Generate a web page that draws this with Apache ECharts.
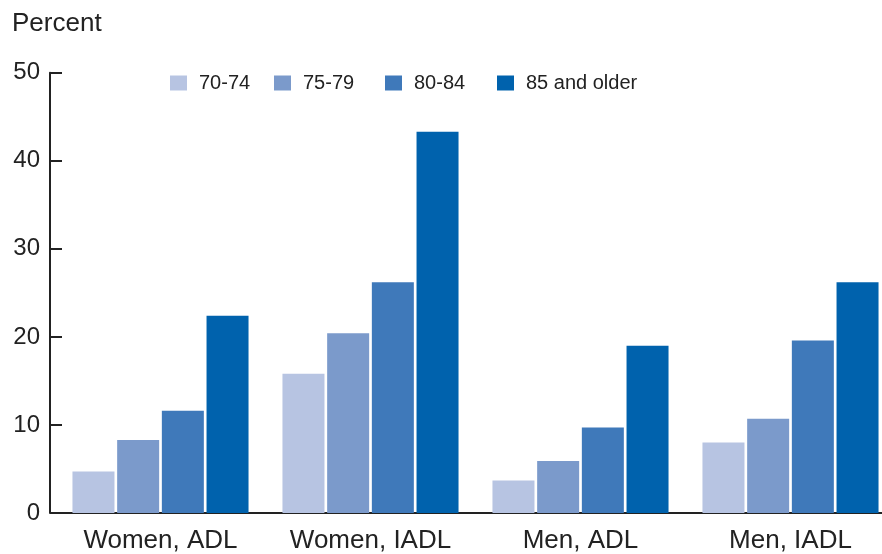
<!DOCTYPE html>
<html>
<head>
<meta charset="utf-8">
<script src="https://cdn.jsdelivr.net/npm/echarts@6/dist/echarts.min.js"></script>
<style>
html,body{margin:0;padding:0;background:#fff;}
#chart{width:882px;height:554px;}
</style>
</head>
<body>
<div id="chart"></div>
<script>
const categories = ['Women, ADL', 'Women, IADL', 'Men, ADL', 'Men, IADL'];
const seriesNames = ['70-74', '75-79', '80-84', '85 and older'];
const age70_74 = [4.7, 15.8, 3.7, 8.0];
const age75_79 = [8.3, 20.4, 5.9, 10.7];
const age80_84 = [11.6, 26.2, 9.7, 19.6];
const age85plus = [22.4, 43.3, 19.0, 26.2];
const yTicks = [0, 10, 20, 30, 40, 50];
const colors = ['#b7c4e2', '#7b9acb', '#3f79ba', '#0062ad'];
const legendLeft = [170, 274, 385, 497];

const allData = [age70_74, age75_79, age80_84, age85plus];
const chart = echarts.init(document.getElementById('chart'), null, {renderer: 'canvas'});
const font = 'Liberation Sans, Arial, Helvetica, sans-serif';
chart.setOption({
  animation: false,
  backgroundColor: '#ffffff',
  color: colors,
  title: {
    text: 'Percent', left: 12, top: 11, padding: 0,
    textStyle: {fontFamily: font, fontSize: 26, fontWeight: 'normal', color: '#222'}
  },
  legend: seriesNames.map((n, i) => ({
    data: [n],
    left: legendLeft[i], top: 73, padding: 0,
    icon: 'rect', itemWidth: 17, itemHeight: 15, itemGap: 0,
    textStyle: {fontFamily: font, fontSize: 20, color: '#222', padding: [0, 0, 0, 7]}
  })),
  grid: {left: 55.5, width: 840, top: 72.7, bottom: 41, containLabel: false, outerBoundsMode: 'none'},
  xAxis: {
    type: 'category', data: categories,
    axisLine: {show: true, lineStyle: {color: '#222', width: 2}},
    axisTick: {show: false},
    axisLabel: {fontFamily: font, fontSize: 26, color: '#222', margin: 15}
  },
  yAxis: {
    type: 'value', min: yTicks[0], max: yTicks[yTicks.length - 1], interval: 10,
    offset: 5.5,
    axisLine: {show: true, lineStyle: {color: '#222', width: 2}},
    axisTick: {show: true, inside: true, length: 12, lineStyle: {color: '#222', width: 2}},
    axisLabel: {fontFamily: font, fontSize: 24, color: '#222', margin: 10},
    splitLine: {show: false}
  },
  series: seriesNames.map((n, i) => ({
    name: n, type: 'bar', data: allData[i],
    barWidth: 42, barGap: '6.4%',
    itemStyle: {color: colors[i]}
  }))
});
</script>
</body>
</html>
